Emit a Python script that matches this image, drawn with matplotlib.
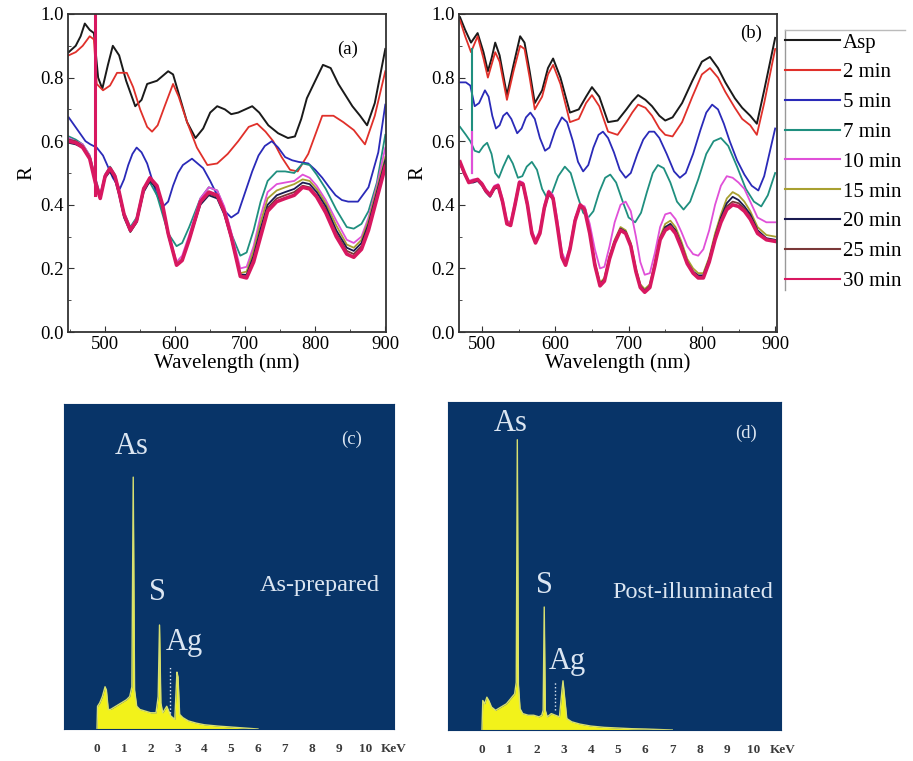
import numpy as np
import matplotlib.pyplot as plt
from matplotlib.lines import Line2D
from matplotlib.ticker import MultipleLocator

plt.rcParams['font.family'] = ['Liberation Serif', 'DejaVu Serif']

# legend labels / colours (shared by panels a and b)
LABELS = ["Asp", "2 min", "5 min", "7 min", "10 min", "15 min", "20 min", "25 min", "30 min"]
COLORS = ['#1a1a1a', '#e0302a', '#2a2ab8', '#1f8f7f', '#e050d8',
          '#a8a030', '#1a1a50', '#7a3838', '#d81860']

# ---------------- panel (a) ----------------
A_WL_ASP = [448, 458, 465, 471, 478, 484, 490, 496, 504, 511, 520, 530, 543, 552, 560, 574, 590, 597,
            605, 617, 629, 640, 650, 660, 671, 680, 690, 700, 710, 720, 733, 747, 761, 771, 780, 788,
            800, 811, 822, 833, 843, 853, 864, 874, 885, 900]
A_R_ASP = [0.88, 0.90, 0.93, 0.97, 0.95, 0.94, 0.80, 0.765, 0.84, 0.90, 0.87, 0.79, 0.71, 0.73, 0.78,
           0.79, 0.82, 0.81, 0.75, 0.66, 0.61, 0.64, 0.69, 0.71, 0.70, 0.685, 0.69, 0.70, 0.71, 0.69,
           0.65, 0.625, 0.61, 0.615, 0.67, 0.735, 0.79, 0.84, 0.83, 0.78, 0.745, 0.71, 0.68, 0.65,
           0.72, 0.89]

A_WL_2 = [448, 458, 468, 478, 484, 488, 497, 507, 517, 531, 540, 550, 560, 567, 575, 585, 597, 605,
          617, 631, 646, 660, 675, 690, 705, 717, 729, 740, 752, 764, 775, 790, 800, 810, 826, 840,
          855, 871, 885, 900]
A_R_2 = [0.87, 0.88, 0.90, 0.93, 0.92, 0.78, 0.76, 0.775, 0.815, 0.815, 0.77, 0.70, 0.645, 0.63, 0.65,
         0.71, 0.78, 0.74, 0.66, 0.58, 0.525, 0.53, 0.56, 0.60, 0.645, 0.655, 0.63, 0.60, 0.55, 0.51,
         0.505, 0.56, 0.62, 0.68, 0.68, 0.66, 0.635, 0.59, 0.68, 0.82]

A_WL_5 = [448, 456, 464, 472, 479, 488, 497, 504, 511, 521, 527, 533, 539, 545, 552, 560, 567, 574,
          583, 590, 597, 604, 611, 624, 640, 650, 660, 671, 680, 690, 700, 710, 719, 728, 738, 747,
          757, 767, 776, 790, 800, 810, 820, 829, 838, 847, 861, 876, 890, 900]
A_R_5 = [0.675, 0.65, 0.625, 0.60, 0.59, 0.58, 0.555, 0.52, 0.485, 0.45, 0.48, 0.525, 0.56, 0.58,
         0.565, 0.53, 0.48, 0.43, 0.395, 0.41, 0.46, 0.50, 0.525, 0.545, 0.515, 0.475, 0.43, 0.38,
         0.36, 0.375, 0.44, 0.505, 0.555, 0.585, 0.60, 0.58, 0.55, 0.54, 0.535, 0.53, 0.51, 0.485,
         0.455, 0.43, 0.415, 0.41, 0.41, 0.455, 0.565, 0.715]

A_WL_LOW = [448, 458, 468, 478, 486, 493, 500, 507, 514, 520, 527, 536, 545, 555, 564, 574, 582, 590,
            602, 610, 620, 636, 648, 660, 670, 680, 693, 702, 712, 722, 732, 745, 757, 770, 782, 792,
            802, 815, 830, 845, 855, 866, 876, 888, 900]
A_R_7 = [0.615, 0.605, 0.59, 0.555, 0.485, 0.43, 0.495, 0.52, 0.495, 0.445, 0.375, 0.33, 0.36, 0.455,
         0.47, 0.43, 0.37, 0.31, 0.27, 0.28, 0.33, 0.42, 0.455, 0.445, 0.39, 0.31, 0.24, 0.25, 0.32,
         0.41, 0.475, 0.505, 0.505, 0.50, 0.53, 0.525, 0.495, 0.45, 0.385, 0.33, 0.325, 0.34, 0.38,
         0.47, 0.62]
A_R_10 = [0.61, 0.60, 0.59, 0.555, 0.485, 0.43, 0.495, 0.515, 0.49, 0.44, 0.37, 0.325, 0.355, 0.45,
          0.485, 0.46, 0.40, 0.315, 0.22, 0.24, 0.305, 0.42, 0.455, 0.445, 0.395, 0.315, 0.20, 0.205,
          0.27, 0.365, 0.44, 0.465, 0.47, 0.475, 0.495, 0.485, 0.46, 0.415, 0.35, 0.29, 0.28, 0.30,
          0.36, 0.46, 0.58]
A_R_15 = [0.60, 0.595, 0.585, 0.55, 0.48, 0.425, 0.49, 0.51, 0.485, 0.435, 0.365, 0.32, 0.35, 0.445,
          0.48, 0.455, 0.395, 0.31, 0.215, 0.23, 0.295, 0.41, 0.44, 0.43, 0.38, 0.30, 0.185, 0.19,
          0.255, 0.345, 0.42, 0.445, 0.455, 0.465, 0.48, 0.475, 0.45, 0.405, 0.335, 0.275, 0.265,
          0.29, 0.35, 0.45, 0.55]
A_R_20 = [0.595, 0.59, 0.58, 0.545, 0.475, 0.42, 0.485, 0.505, 0.48, 0.43, 0.36, 0.315, 0.345, 0.44,
          0.475, 0.45, 0.39, 0.305, 0.21, 0.225, 0.29, 0.40, 0.43, 0.42, 0.37, 0.295, 0.18, 0.18,
          0.24, 0.325, 0.40, 0.43, 0.44, 0.45, 0.47, 0.465, 0.44, 0.395, 0.32, 0.265, 0.255, 0.28,
          0.34, 0.44, 0.54]
A_R_25 = [0.605, 0.60, 0.585, 0.55, 0.48, 0.425, 0.49, 0.51, 0.485, 0.435, 0.365, 0.315, 0.345, 0.445,
          0.48, 0.455, 0.395, 0.31, 0.21, 0.225, 0.29, 0.405, 0.435, 0.425, 0.375, 0.295, 0.175, 0.175,
          0.23, 0.31, 0.39, 0.42, 0.43, 0.44, 0.46, 0.455, 0.43, 0.385, 0.31, 0.255, 0.245, 0.27,
          0.33, 0.43, 0.53]
A_R_30 = [0.60, 0.595, 0.58, 0.545, 0.47, 0.42, 0.49, 0.515, 0.49, 0.44, 0.37, 0.32, 0.35, 0.45,
          0.485, 0.46, 0.40, 0.31, 0.21, 0.225, 0.29, 0.41, 0.44, 0.43, 0.38, 0.30, 0.175, 0.17, 0.22,
          0.30, 0.38, 0.41, 0.42, 0.43, 0.455, 0.45, 0.425, 0.375, 0.30, 0.245, 0.235, 0.26, 0.32,
          0.42, 0.52]
A_SPIKE_WL = [486, 486]
A_SPIKE_R = [1.02, 0.43]

# ---------------- panel (b) ----------------
B_WL_TOP = [470, 477, 485, 494, 502, 508, 513, 518, 524, 534, 543, 552, 558, 565, 572, 582, 590, 597,
            607, 620, 632, 642, 650, 660, 672, 685, 697, 705, 713, 723, 732, 742, 750, 760, 773, 787,
            800, 811, 822, 832, 845, 855, 866, 875, 885, 900]
B_R_ASP = [0.99, 0.95, 0.91, 0.94, 0.88, 0.82, 0.86, 0.91, 0.87, 0.745, 0.84, 0.93, 0.91, 0.82, 0.72,
           0.76, 0.83, 0.86, 0.80, 0.69, 0.70, 0.74, 0.77, 0.74, 0.66, 0.665, 0.70, 0.725, 0.745, 0.73,
           0.71, 0.68, 0.665, 0.675, 0.72, 0.79, 0.85, 0.865, 0.83, 0.785, 0.735, 0.705, 0.68, 0.655,
           0.76, 0.925]
B_R_2 = [0.98, 0.93, 0.88, 0.93, 0.86, 0.80, 0.84, 0.88, 0.85, 0.73, 0.82, 0.90, 0.89, 0.80, 0.70,
         0.74, 0.81, 0.84, 0.78, 0.66, 0.67, 0.72, 0.745, 0.71, 0.63, 0.62, 0.66, 0.69, 0.715, 0.705,
         0.68, 0.64, 0.62, 0.615, 0.66, 0.74, 0.81, 0.83, 0.80, 0.755, 0.705, 0.67, 0.65, 0.62, 0.72,
         0.89]

B_WL_5 = [470, 478, 484, 490, 496, 504, 509, 514, 519, 524, 529, 534, 540, 548, 554, 560, 566, 572,
          579, 586, 592, 600, 609, 616, 624, 631, 638, 645, 652, 659, 665, 672, 680, 688, 696, 703,
          712, 720, 728, 735, 742, 752, 762, 770, 778, 788, 798, 806, 814, 822, 830, 838, 848, 858,
          868, 877, 885, 893, 900]
B_R_5 = [0.785, 0.785, 0.775, 0.71, 0.72, 0.76, 0.74, 0.68, 0.64, 0.65, 0.68, 0.69, 0.67, 0.625, 0.64,
         0.675, 0.69, 0.67, 0.61, 0.57, 0.58, 0.635, 0.675, 0.66, 0.60, 0.535, 0.505, 0.525, 0.58,
         0.62, 0.63, 0.61, 0.565, 0.51, 0.485, 0.50, 0.56, 0.605, 0.63, 0.63, 0.61, 0.56, 0.505,
         0.485, 0.50, 0.56, 0.635, 0.69, 0.715, 0.70, 0.655, 0.60, 0.54, 0.495, 0.46, 0.445, 0.49,
         0.57, 0.64]

B_WL_7 = [470, 478, 484, 490, 496, 502, 507, 513, 518, 523, 529, 536, 542, 549, 555, 561, 568, 575,
          582, 589, 596, 604, 613, 621, 630, 638, 645, 652, 660, 668, 675, 683, 692, 700, 709, 717,
          725, 733, 740, 748, 757, 766, 775, 784, 795, 806, 816, 826, 836, 848, 860, 871, 881, 890,
          900]
B_R_7 = [0.645, 0.62, 0.60, 0.57, 0.565, 0.585, 0.595, 0.56, 0.50, 0.485, 0.52, 0.555, 0.53, 0.485,
         0.49, 0.52, 0.535, 0.51, 0.45, 0.42, 0.44, 0.49, 0.52, 0.50, 0.43, 0.375, 0.36, 0.38, 0.44,
         0.485, 0.495, 0.47, 0.41, 0.36, 0.345, 0.375, 0.44, 0.50, 0.525, 0.515, 0.47, 0.41, 0.385,
         0.41, 0.48, 0.56, 0.60, 0.61, 0.585, 0.52, 0.45, 0.41, 0.395, 0.43, 0.50]

B_WL_LOW = [470, 476, 482, 488, 494, 500, 505, 511, 517, 522, 528, 534, 539, 545, 551, 556, 562, 568,
            573, 579, 585, 591, 597, 603, 609, 614, 620, 627, 634, 640, 647, 654, 661, 667, 674, 681,
            689, 696, 703, 710, 716, 722, 729, 736, 743, 750, 757, 764, 772, 780, 788, 795, 802, 810,
            818, 826, 834, 842, 850, 858, 866, 876, 888, 900]
B_R_10 = [0.53, 0.50, 0.475, 0.48, 0.48, 0.47, 0.45, 0.435, 0.46, 0.465, 0.42, 0.35, 0.345, 0.41,
          0.475, 0.47, 0.41, 0.32, 0.29, 0.32, 0.40, 0.445, 0.43, 0.35, 0.25, 0.225, 0.27, 0.36, 0.40,
          0.395, 0.34, 0.26, 0.20, 0.205, 0.27, 0.345, 0.40, 0.41, 0.38, 0.30, 0.22, 0.18, 0.185, 0.25,
          0.33, 0.37, 0.375, 0.355, 0.315, 0.27, 0.245, 0.24, 0.26, 0.32, 0.40, 0.46, 0.49, 0.485,
          0.47, 0.45, 0.41, 0.36, 0.345, 0.345]
B_R_15 = [0.535, 0.50, 0.47, 0.475, 0.48, 0.465, 0.445, 0.43, 0.455, 0.46, 0.41, 0.345, 0.34, 0.40,
          0.47, 0.465, 0.40, 0.31, 0.285, 0.315, 0.39, 0.44, 0.42, 0.335, 0.24, 0.215, 0.265, 0.355,
          0.40, 0.39, 0.315, 0.22, 0.155, 0.17, 0.24, 0.29, 0.33, 0.32, 0.28, 0.20, 0.15, 0.135, 0.15,
          0.22, 0.30, 0.34, 0.35, 0.33, 0.285, 0.23, 0.20, 0.185, 0.185, 0.235, 0.31, 0.37, 0.42,
          0.44, 0.43, 0.41, 0.38, 0.33, 0.305, 0.30]
B_R_20 = [0.53, 0.495, 0.47, 0.47, 0.475, 0.46, 0.44, 0.425, 0.45, 0.455, 0.405, 0.34, 0.335, 0.395,
          0.465, 0.46, 0.395, 0.31, 0.28, 0.31, 0.385, 0.435, 0.415, 0.33, 0.235, 0.21, 0.26, 0.35,
          0.395, 0.385, 0.31, 0.215, 0.15, 0.165, 0.235, 0.285, 0.325, 0.315, 0.275, 0.195, 0.145,
          0.13, 0.145, 0.215, 0.295, 0.33, 0.34, 0.32, 0.275, 0.22, 0.19, 0.178, 0.178, 0.228, 0.30,
          0.36, 0.405, 0.425, 0.415, 0.395, 0.37, 0.32, 0.295, 0.29]
B_R_25 = [0.53, 0.50, 0.47, 0.475, 0.48, 0.465, 0.445, 0.43, 0.455, 0.46, 0.41, 0.34, 0.335, 0.40,
          0.47, 0.465, 0.40, 0.31, 0.28, 0.31, 0.39, 0.44, 0.42, 0.33, 0.235, 0.21, 0.26, 0.35, 0.40,
          0.385, 0.31, 0.212, 0.148, 0.162, 0.232, 0.282, 0.322, 0.312, 0.272, 0.192, 0.142, 0.128,
          0.142, 0.212, 0.292, 0.325, 0.335, 0.315, 0.27, 0.218, 0.188, 0.174, 0.174, 0.224, 0.295,
          0.352, 0.395, 0.41, 0.405, 0.388, 0.362, 0.315, 0.29, 0.288]
B_R_30 = [0.535, 0.50, 0.47, 0.475, 0.48, 0.465, 0.445, 0.43, 0.455, 0.46, 0.41, 0.34, 0.335, 0.40,
          0.47, 0.465, 0.40, 0.31, 0.28, 0.31, 0.39, 0.44, 0.42, 0.33, 0.235, 0.21, 0.26, 0.35, 0.40,
          0.385, 0.31, 0.21, 0.145, 0.16, 0.23, 0.28, 0.32, 0.31, 0.27, 0.19, 0.14, 0.125, 0.14, 0.21,
          0.29, 0.32, 0.33, 0.31, 0.265, 0.215, 0.185, 0.17, 0.17, 0.22, 0.29, 0.345, 0.385, 0.40,
          0.395, 0.38, 0.355, 0.31, 0.29, 0.285]
B_SPIKE7_WL = [486, 486]
B_SPIKE7_R = [0.89, 0.50]
B_SPIKE10_WL = [487, 487]
B_SPIKE10_R = [0.63, 0.50]

# ---------------- EDS spectra (c), (d) ----------------
C_KEV = [0.0, 0.02, 0.1, 0.2, 0.3, 0.35, 0.42, 0.5, 0.7, 0.9, 1.1, 1.22, 1.3, 1.35, 1.4, 1.48, 1.6,
         1.8, 2.0, 2.2, 2.28, 2.33, 2.38, 2.45, 2.6, 2.75, 2.9, 2.98, 3.02, 3.08, 3.2, 3.4, 3.7, 4.0,
         4.5, 5.0, 5.5, 6.0]
C_CNT = [0.0, 0.07, 0.08, 0.10, 0.13, 0.12, 0.06, 0.06, 0.07, 0.08, 0.09, 0.10, 0.13, 0.775, 0.12,
         0.07, 0.06, 0.055, 0.05, 0.05, 0.10, 0.32, 0.08, 0.05, 0.07, 0.04, 0.03, 0.175, 0.16, 0.045,
         0.035, 0.025, 0.018, 0.013, 0.009, 0.006, 0.003, 0.0]
D_KEV = [0.0, 0.03, 0.1, 0.18, 0.25, 0.35, 0.5, 0.7, 0.9, 1.1, 1.2, 1.26, 1.3, 1.34, 1.4, 1.5, 1.7,
         1.9, 2.1, 2.2, 2.25, 2.29, 2.33, 2.4, 2.55, 2.7, 2.85, 2.94, 2.98, 3.04, 3.12, 3.3, 3.6, 4.0,
         4.5, 5.0, 5.5, 6.0, 7.0]
D_CNT = [0.0, 0.09, 0.08, 0.10, 0.09, 0.07, 0.06, 0.07, 0.08, 0.10, 0.11, 0.145, 0.885, 0.14, 0.065,
         0.05, 0.045, 0.045, 0.04, 0.045, 0.06, 0.375, 0.06, 0.04, 0.05, 0.045, 0.04, 0.12, 0.15, 0.10,
         0.035, 0.025, 0.018, 0.012, 0.008, 0.006, 0.004, 0.003, 0.0]
KEV_TICKS = list(range(0, 11))

EDS_BG = '#083468'
EDS_FILL = '#f2f21a'
EDS_TEXT = '#dce6f2'


def style_refl(ax, xlim, label, label_pos):
    ax.set_xlim(*xlim)
    ax.set_ylim(0, 1.0)
    ax.xaxis.set_major_locator(MultipleLocator(100))
    ax.xaxis.set_minor_locator(MultipleLocator(50))
    ax.yaxis.set_major_locator(MultipleLocator(0.2))
    ax.yaxis.set_minor_locator(MultipleLocator(0.1))
    ax.tick_params(which='both', direction='in', labelsize=13.5, pad=3, color='#333333')
    ax.tick_params(which='major', length=4)
    ax.tick_params(which='minor', length=2)
    ax.yaxis.set_major_formatter(plt.FormatStrFormatter('%.1f'))
    for s in ax.spines.values():
        s.set_linewidth(1.3)
        s.set_color('#333333')
    ax.set_xlabel("Wavelength (nm)", fontsize=15, labelpad=0)
    ax.set_ylabel("R", fontsize=15, labelpad=3)
    ax.text(label_pos[0], label_pos[1], label, transform=ax.transAxes, fontsize=13.5,
            ha='center', va='center')


def draw_eds(ax, kev, cnt, xlim, texts):
    ax.set_facecolor(EDS_BG)
    ax.set_xlim(*xlim)
    ax.set_ylim(0, 1)
    ax.fill_between(kev, 0, cnt, color=EDS_FILL, lw=0)
    ax.plot(kev, cnt, color='#d8e070', lw=1.0)
    ax.set_yticks([])
    ax.set_xticks(KEV_TICKS)
    ax.set_xticklabels([str(k) for k in KEV_TICKS], fontsize=9.5, fontweight='bold', color='#3a3a3a')
    ax.tick_params(axis='x', length=0, pad=10)
    ax.text(11.05, -0.062, "KeV", transform=ax.get_xaxis_transform(), fontsize=9.5,
            fontweight='bold', color='#3a3a3a', ha='center', va='center')
    for s in ax.spines.values():
        s.set_color(EDS_BG)
    for x, y, t, fs in texts:
        ax.text(x, y, t, transform=ax.get_xaxis_transform(), color=EDS_TEXT, fontsize=fs,
                ha='center', va='center')


fig = plt.figure(figsize=(9.13, 7.61), dpi=100)

# panel (a)
ax_a = fig.add_axes([68 / 913, 1 - 332 / 761, 318 / 913, 318 / 761])
ax_a.plot(A_WL_ASP, A_R_ASP, color=COLORS[0], lw=1.4)
ax_a.plot(A_WL_2, A_R_2, color=COLORS[1], lw=1.3)
ax_a.plot(A_WL_5, A_R_5, color=COLORS[2], lw=1.3)
for r, c in zip([A_R_7, A_R_10, A_R_15, A_R_20, A_R_25], COLORS[3:8]):
    ax_a.plot(A_WL_LOW, r, color=c, lw=1.3)
ax_a.plot(A_WL_LOW, A_R_30, color=COLORS[8], lw=2.6)
ax_a.plot(A_SPIKE_WL, A_SPIKE_R, color=COLORS[8], lw=2.2)
style_refl(ax_a, (447, 901), "(a)", (0.88, 0.89))

# panel (b)
ax_b = fig.add_axes([459 / 913, 1 - 332 / 761, 318 / 913, 318 / 761])
ax_b.plot(B_WL_TOP, B_R_ASP, color=COLORS[0], lw=1.4)
ax_b.plot(B_WL_TOP, B_R_2, color=COLORS[1], lw=1.3)
ax_b.plot(B_WL_5, B_R_5, color=COLORS[2], lw=1.3)
ax_b.plot(B_WL_7, B_R_7, color=COLORS[3], lw=1.3)
for r, c in zip([B_R_10, B_R_15, B_R_20, B_R_25], COLORS[4:8]):
    ax_b.plot(B_WL_LOW, r, color=c, lw=1.3)
ax_b.plot(B_WL_LOW, B_R_30, color=COLORS[8], lw=2.6)
ax_b.plot(B_SPIKE7_WL, B_SPIKE7_R, color=COLORS[3], lw=1.5)
ax_b.plot(B_SPIKE10_WL, B_SPIKE10_R, color=COLORS[4], lw=1.5)
style_refl(ax_b, (468.6, 902.5), "(b)", (0.92, 0.94))

# legend to the right of (b)
handles = [Line2D([], [], color=c, lw=1.5) for c in COLORS]
fig.legend(handles, LABELS, loc='upper left', bbox_to_anchor=(785 / 913, 1 - 33 / 761),
           frameon=False, fontsize=15, handlelength=2.65, handletextpad=0.12,
           labelspacing=0.49, borderpad=0, borderaxespad=0)
fig.add_artist(Line2D([785 / 913, 785 / 913], [1 - 30 / 761, 1 - 290 / 761],
                      transform=fig.transFigure, color='#999999', lw=1))
fig.add_artist(Line2D([785 / 913, 905 / 913], [1 - 30 / 761, 1 - 30 / 761],
                      transform=fig.transFigure, color='#bbbbbb', lw=1))

# panel (c)
ax_c = fig.add_axes([64 / 913, 1 - 729 / 761, 330 / 913, 325 / 761])
draw_eds(ax_c, C_KEV, C_CNT, (-1.23, 11.07),
         [(1.3, 0.87, "As", 22), (2.24, 0.42, "S", 22), (3.25, 0.265, "Ag", 22),
          (9.5, 0.89, "(c)", 13.5), (8.3, 0.443, "As-prepared", 17.5)])
ax_c.vlines([2.72], [0.05], [0.19], colors=EDS_TEXT, linestyles=':', lw=1)

# panel (d)
ax_d = fig.add_axes([448 / 913, 1 - 730 / 761, 333 / 913, 328 / 761])
draw_eds(ax_d, D_KEV, D_CNT, (-1.25, 11.0),
         [(1.07, 0.935, "As", 22), (2.3, 0.44, "S", 22), (3.15, 0.21, "Ag", 22),
          (9.7, 0.905, "(d)", 13.5), (7.75, 0.42, "Post-illuminated", 17.5)])
ax_d.vlines([2.68], [0.06], [0.15], colors=EDS_TEXT, linestyles=':', lw=1)

fig.savefig("out.png", dpi=100)
